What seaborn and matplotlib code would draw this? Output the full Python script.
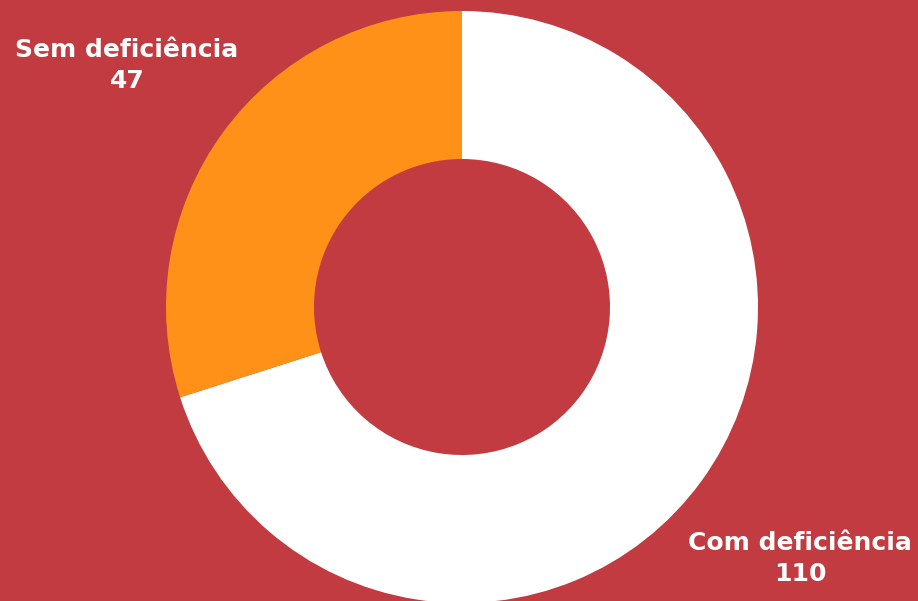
import matplotlib
matplotlib.use("Agg")
import matplotlib.pyplot as plt
import seaborn as sns

labels = ["Com deficiência", "Sem deficiência"]
values = [110, 47]
colors = ["#FFFFFF", "#FF9018"]
bg = "#C23B40"

sns.set_style("white")
plt.rcParams["font.family"] = ["DejaVu Sans"]

fig = plt.figure(figsize=(9.18, 6.01), dpi=100, facecolor=bg)
ax = fig.add_axes([0, 0, 1, 1])
ax.set_facecolor(bg)

ax.pie(values, colors=colors, startangle=90, counterclock=False,
       radius=1, wedgeprops=dict(width=0.5, edgecolor="none"))

# pixel-matched limits: center at (462, 307), radius 296 px
ax.set_xlim(-462 / 296, (918 - 462) / 296)
ax.set_ylim(-(601 - 307) / 296, 307 / 296)
ax.set_aspect("auto")
ax.axis("off")

ax.text(-1.132, 0.815, f"{labels[1]}\n{values[1]}", ha="center", va="center",
        color="white", fontsize=18, fontweight="bold", linespacing=1.35)
ax.text(1.142, -0.85, f"{labels[0]}\n{values[0]}", ha="center", va="center",
        color="white", fontsize=18, fontweight="bold", linespacing=1.35)

fig.savefig("out.png", dpi=100, facecolor=bg)
plt.close()
